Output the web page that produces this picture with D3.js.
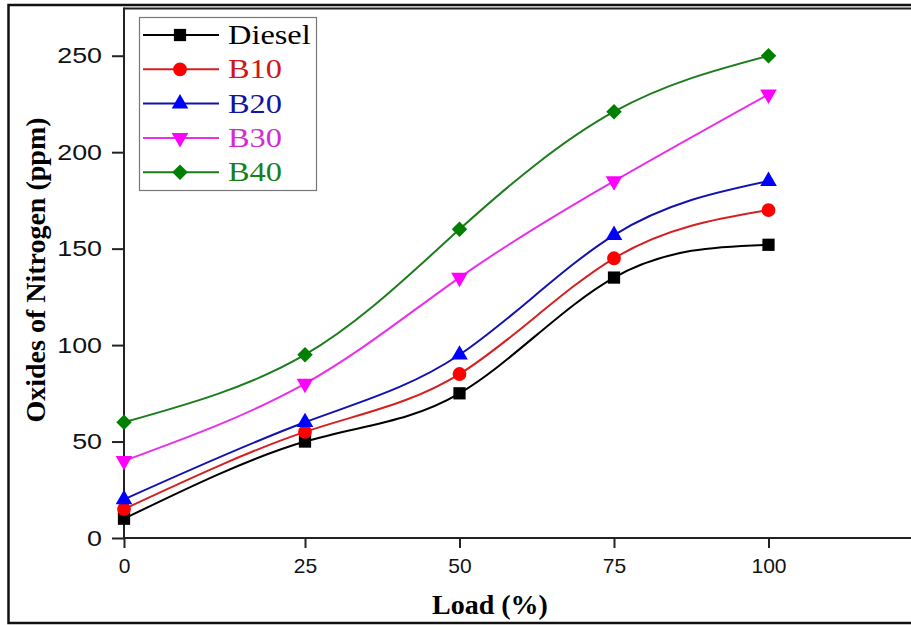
<!DOCTYPE html>
<html>
<head>
<meta charset="utf-8">
<script src="https://cdn.jsdelivr.net/npm/d3@7"></script>
<style>
  html, body { margin: 0; padding: 0; background: #fff; }
  svg { display: block; }
</style>
</head>
<body>
<svg id="chart" width="911" height="625"></svg>
<script>
// Engine load (%) and NOx emissions (ppm) for each fuel blend
const loads = [0, 25, 50, 75, 100];
const xTicks = [0, 25, 50, 75, 100];
const yTicks = [0, 50, 100, 150, 200, 250];
const seriesNames = ["Diesel", "B10", "B20", "B30", "B40"];
const diesel = [10, 50, 75, 135, 152];
const b10 = [15, 55, 85, 145, 170];
const b20 = [20, 60, 95, 157, 185];
const b30 = [40, 80, 135, 185, 230];
const b40 = [60, 95, 160, 221, 250];

const seriesValues = [diesel, b10, b20, b30, b40];
const markerColors = ["#000000", "#ff0000", "#0000ff", "#ff00ff", "#008000"];
const lineColors = ["#000000", "#d42020", "#1212b0", "#e930e9", "#1d7d1d"];
const textColors = ["#000000", "#d01818", "#1414a0", "#d42ad4", "#1a7f1a"];
const shapes = ["square", "circle", "triangle", "triangleDown", "diamond"];

const svg = d3.select("#chart");
const W = 911, H = 625;

// plot area
const plotLeft = 124, plotTop = 7.5, plotBottom = 538;

// x axis: tick spacing is wider between 0 and 25 than elsewhere
const x = d3.scaleLinear().domain([0, 25, 125]).range([plotLeft, 305, 923]);
const y = d3.scaleLinear().domain([0, 275]).range([plotBottom, plotTop]);

// outer frame (left, top, bottom edges)
svg.append("path")
  .attr("d", `M${W + 5},5 H8.5 V623 H${W + 5}`)
  .attr("fill", "none").attr("stroke", "#111").attr("stroke-width", 2.5);

// plot box top edge
svg.append("line")
  .attr("x1", plotLeft).attr("x2", W + 5).attr("y1", plotTop + 1).attr("y2", plotTop + 1)
  .attr("stroke", "#222").attr("stroke-width", 2);

const font = "'Liberation Sans', Arial, sans-serif";
const serif = "'Liberation Serif', 'Times New Roman', serif";

// x axis
const gx = svg.append("g").attr("transform", `translate(0,${plotBottom})`)
  .call(d3.axisBottom(x).tickValues(xTicks).tickSize(10).tickPadding(10).tickFormat(d3.format("d")));
gx.select(".domain").attr("d", `M${plotLeft},0H${W + 5}`).attr("stroke", "#222").attr("stroke-width", 2);
gx.selectAll(".tick line").attr("stroke", "#222").attr("stroke-width", 2);
gx.selectAll(".tick text").attr("font-family", font).attr("font-size", 21).attr("fill", "#111");

// y axis (labels drawn slightly wide)
const gy = svg.append("g").attr("transform", `translate(${plotLeft},0)`)
  .call(d3.axisLeft(y).tickValues(yTicks).tickSize(12).tickPadding(10).tickFormat(d3.format("d")));
gy.select(".domain").attr("d", `M0,${plotTop}V${plotBottom}`).attr("stroke", "#222").attr("stroke-width", 2);
gy.selectAll(".tick line").attr("stroke", "#222").attr("stroke-width", 2);
gy.selectAll(".tick text")
  .attr("font-family", font).attr("font-size", 22).attr("fill", "#111")
  .attr("x", 0)
  .attr("transform", "translate(-22,0) scale(1.22,1)");

// axis titles
svg.append("text")
  .attr("x", 490).attr("y", 614)
  .attr("text-anchor", "middle")
  .attr("font-family", serif).attr("font-weight", "bold").attr("font-size", 28)
  .text("Load (%)");

svg.append("text")
  .attr("transform", "translate(45,270) rotate(-90)")
  .attr("text-anchor", "middle")
  .attr("font-family", serif).attr("font-weight", "bold").attr("font-size", 28)
  .text("Oxides of Nitrogen (ppm)");

// marker shapes
function markerPath(kind) {
  switch (kind) {
    case "square": return d3.symbol(d3.symbolSquare, 150)();
    case "circle": return d3.symbol(d3.symbolCircle, 150)();
    case "triangle": return d3.symbol(d3.symbolTriangle, 120)();
    case "triangleDown": return d3.symbol(d3.symbolTriangle, 120)();
    case "diamond": return d3.symbol(d3.symbolSquare, 120)();
  }
}
function markerRotate(kind) {
  if (kind === "triangleDown") return 180;
  if (kind === "diamond") return 45;
  return 0;
}

const line = d3.line()
  .x((d, i) => x(loads[i]))
  .y(d => y(d))
  .curve(d3.curveNatural);

const plot = svg.append("g");
seriesValues.forEach((vals, s) => {
  plot.append("path")
    .attr("d", line(vals))
    .attr("fill", "none")
    .attr("stroke", lineColors[s])
    .attr("stroke-width", 2);
});
seriesValues.forEach((vals, s) => {
  plot.selectAll(null).data(vals).enter().append("path")
    .attr("d", markerPath(shapes[s]))
    .attr("transform", (d, i) => `translate(${x(loads[i])},${y(d)}) rotate(${markerRotate(shapes[s])})`)
    .attr("fill", markerColors[s]);
});

// legend
const legend = svg.append("g");
legend.append("rect")
  .attr("x", 139.5).attr("y", 17.5).attr("width", 177).attr("height", 173)
  .attr("fill", "#fff").attr("stroke", "#777").attr("stroke-width", 1.2);
seriesNames.forEach((name, s) => {
  const ly = 35 + s * 34.3;
  legend.append("line")
    .attr("x1", 143).attr("x2", 219).attr("y1", ly).attr("y2", ly)
    .attr("stroke", lineColors[s]).attr("stroke-width", 2);
  legend.append("path")
    .attr("d", markerPath(shapes[s]))
    .attr("transform", `translate(180,${ly}) rotate(${markerRotate(shapes[s])})`)
    .attr("fill", markerColors[s]);
  legend.append("text")
    .attr("transform", `translate(228,${ly + 9}) scale(1.2,1)`)
    .attr("font-family", serif).attr("font-size", 27)
    .attr("fill", textColors[s])
    .text(name);
});
</script>
</body>
</html>
